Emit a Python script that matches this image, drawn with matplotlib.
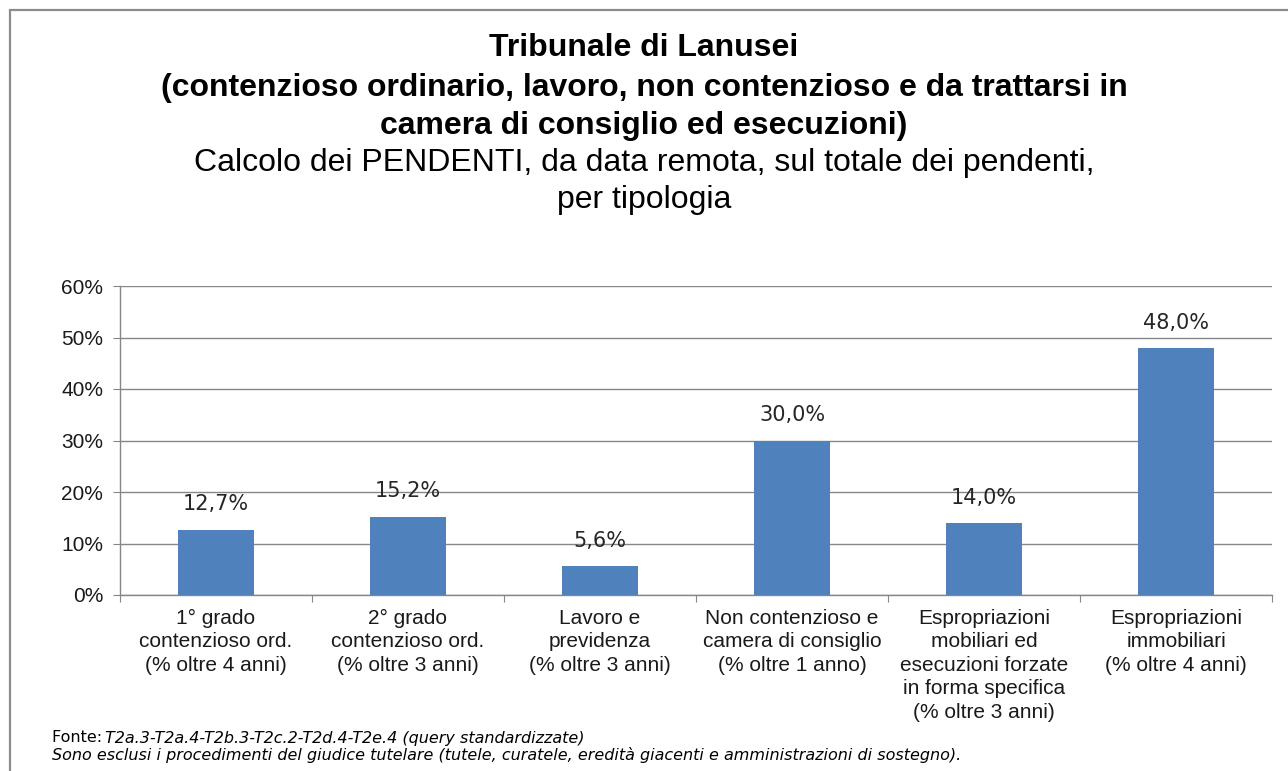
import numpy as np
import matplotlib
matplotlib.use("Agg")
import matplotlib.pyplot as plt
from matplotlib.patches import Rectangle
from matplotlib.ticker import FixedLocator, NullFormatter

categories = [
    "1° grado\ncontenzioso ord.\n(% oltre 4 anni)",
    "2° grado\ncontenzioso ord.\n(% oltre 3 anni)",
    "Lavoro e\nprevidenza\n(% oltre 3 anni)",
    "Non contenzioso e\ncamera di consiglio\n(% oltre 1 anno)",
    "Espropriazioni\nmobiliari ed\nesecuzioni forzate\nin forma specifica\n(% oltre 3 anni)",
    "Espropriazioni\nimmobiliari\n(% oltre 4 anni)",
]
values = [12.7, 15.2, 5.6, 30.0, 14.0, 48.0]
yticks = [0, 10, 20, 30, 40, 50, 60]

BAR = "#4F81BD"
GRID = "#868686"
TFONT = "Liberation Sans"

fig = plt.figure(figsize=(12.88, 7.71), dpi=100)
fig.patch.set_facecolor("white")

# outer frame (right and bottom edges run off the picture)
fig.add_artist(Rectangle((10 / 1288, -0.05), 1.1, 1 - 10 / 771 + 0.05,
                         transform=fig.transFigure, fill=False,
                         edgecolor="#8c8c8c", linewidth=1.6))

ax = fig.add_axes([120 / 1288, 1 - 595 / 771, (1272 - 120) / 1288, (595 - 286) / 771])

x = np.arange(len(values))
ax.bar(x, values, width=0.4, color=BAR, zorder=3)

ax.set_xlim(-0.5, len(values) - 0.5)
ax.set_ylim(0, 60)
ax.set_yticks(yticks)
ax.set_yticklabels([f"{t}%" for t in yticks], fontsize=15, family=TFONT, color="#1a1a1a")
ax.yaxis.grid(True, color=GRID, linewidth=1.0, zorder=0)

# category boundaries as tick marks, labels centred under bars
ax.xaxis.set_major_locator(FixedLocator(np.arange(-0.5, len(values), 1.0)))
ax.xaxis.set_major_formatter(NullFormatter())
ax.set_xticks(x, minor=True)
ax.set_xticklabels(categories, minor=True, fontsize=15, family=TFONT,
                   color="#1a1a1a", linespacing=1.3, va="top")
ax.tick_params(axis="x", which="minor", length=0, pad=10)
ax.tick_params(axis="x", which="major", length=5, color=GRID, direction="out")
ax.tick_params(axis="y", length=5, color=GRID, direction="out", pad=7)

for s in ["top", "right"]:
    ax.spines[s].set_visible(False)
for s in ["left", "bottom"]:
    ax.spines[s].set_color(GRID)
    ax.spines[s].set_linewidth(1.0)

for xi, v in zip(x, values):
    ax.annotate(f"{v:.1f}%".replace(".", ","), (xi, v), xytext=(0, 11),
                textcoords="offset points", ha="center", va="bottom",
                fontsize=15, family="DejaVu Sans", color="#262626")

# titles
fig.text(0.5, 1 - 48 / 771, "Tribunale di Lanusei", ha="center", va="center",
         fontsize=23, fontweight="bold", family=TFONT)
fig.text(0.5, 1 - 88 / 771, "(contenzioso ordinario, lavoro, non contenzioso e da trattarsi in",
         ha="center", va="center", fontsize=23, fontweight="bold", family=TFONT)
fig.text(0.5, 1 - 126 / 771, "camera di consiglio ed esecuzioni)", ha="center", va="center",
         fontsize=23, fontweight="bold", family=TFONT)
fig.text(0.5, 1 - 163 / 771, "Calcolo dei PENDENTI, da data remota, sul totale dei pendenti,",
         ha="center", va="center", fontsize=23, family=TFONT)
fig.text(0.5, 1 - 200 / 771, "per tipologia", ha="center", va="center",
         fontsize=23, family=TFONT)

# footer
fig.text(52 / 1288, 1 - 738 / 771, "Fonte: ", ha="left", va="center", fontsize=11.5,
         family="DejaVu Sans")
fig.text(105 / 1288, 1 - 738 / 771, "T2a.3-T2a.4-T2b.3-T2c.2-T2d.4-T2e.4 (query standardizzate)",
         ha="left", va="center", fontsize=11.5, family="DejaVu Sans", style="italic")
fig.text(52 / 1288, 1 - 755 / 771,
         "Sono esclusi i procedimenti del giudice tutelare (tutele, curatele, eredità giacenti e amministrazioni di sostegno).",
         ha="left", va="center", fontsize=11.5, family="DejaVu Sans", style="italic")

fig.savefig("out.png", dpi=100)
